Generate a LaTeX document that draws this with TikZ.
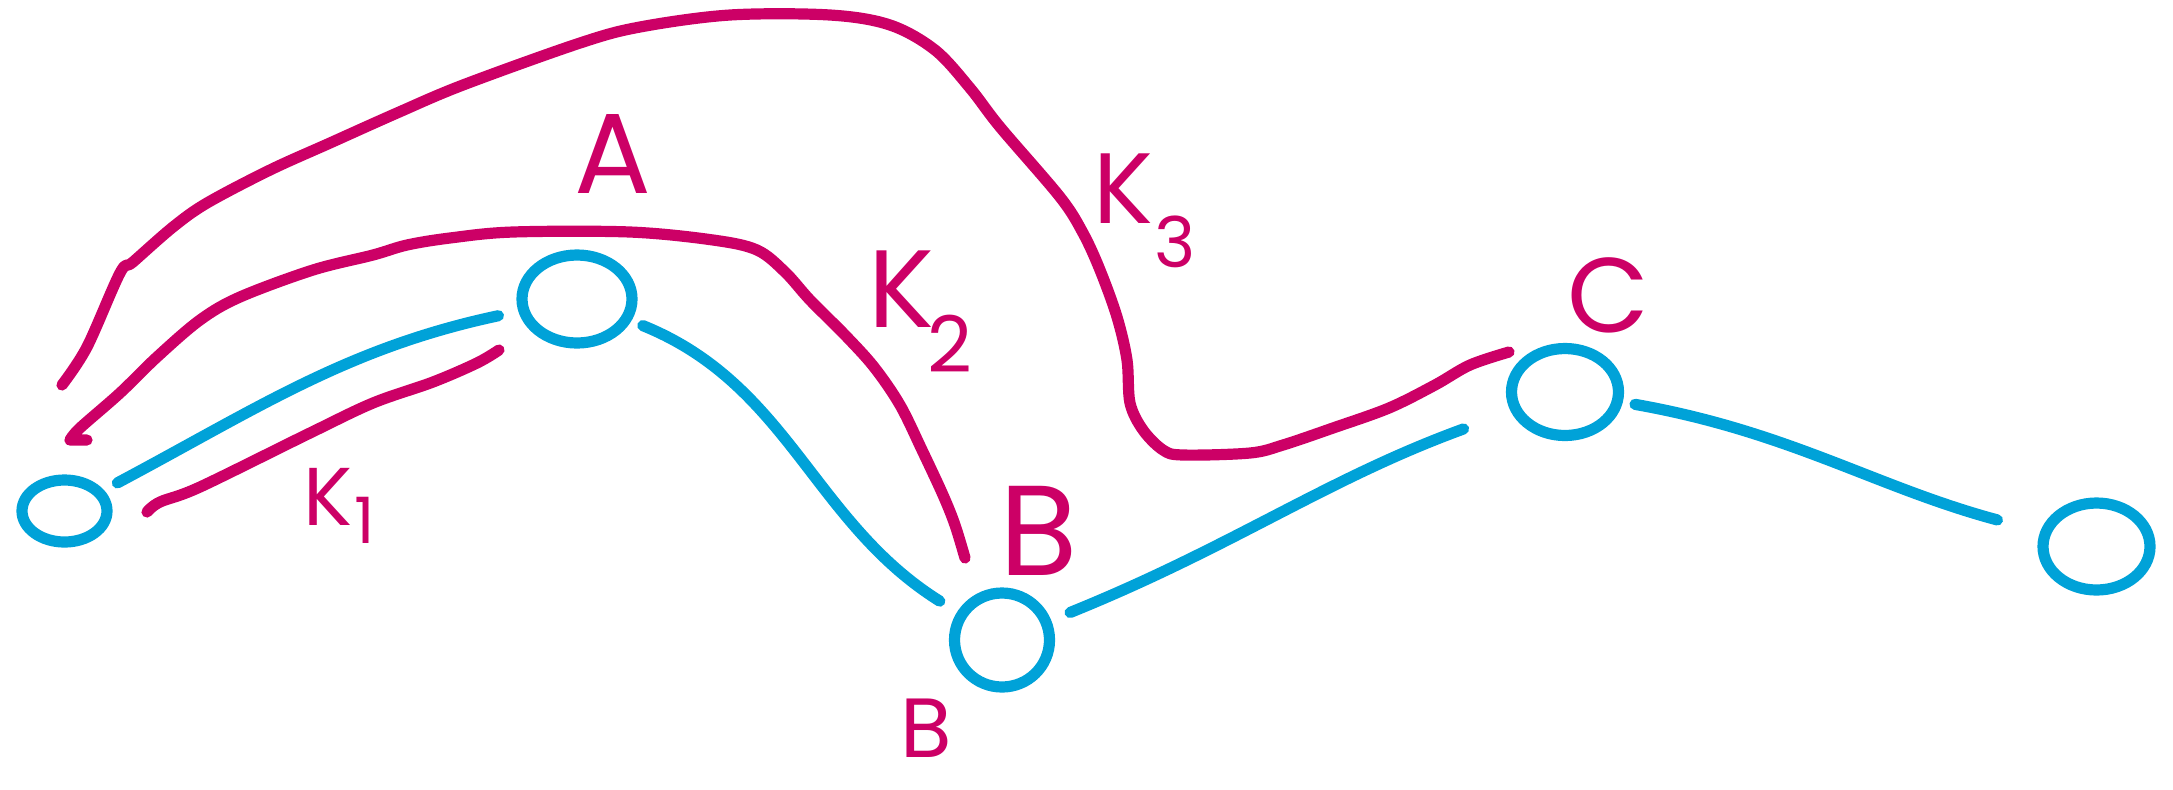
\documentclass[tikz,border=0pt]{standalone}
\usepackage{fontspec}
\newfontfamily\hand{Poppins}
\usetikzlibrary{shapes.geometric}
\definecolor{mag}{HTML}{CC0066}
\definecolor{sky}{HTML}{00A2D8}
\begin{document}
\begin{tikzpicture}[x=0.5pt,y=-0.5pt,
  magline/.style={draw=mag,line width=5.6pt,line cap=round,line join=round},
  blueline/.style={draw=sky,line width=5.6pt,line cap=round,line join=round},
  ring/.style={ellipse,draw=sky,line width=5.6pt,inner sep=0pt,outer sep=0pt},
  lab/.style={text=mag,inner sep=0pt,outer sep=0pt,font=\hand}]
\useasboundingbox (0,0) rectangle (2173,789);

% circles
\node[ring,minimum width=42.5pt,minimum height=31pt] (L) at (64.5,511) {};
\node[ring,minimum width=55pt,minimum height=44pt] (A) at (577,299) {};
\node[ring,minimum width=47.5pt,minimum height=47pt] (B) at (1002,640) {};
\node[ring,minimum width=53.5pt,minimum height=43.5pt] (C) at (1565,392) {};
\node[ring,minimum width=53.5pt,minimum height=43.5pt] (R) at (2096.5,546.5) {};

% blue connectors
\draw[blueline,shorten <=10.5pt,shorten >=13pt] (L) to[out=28,in=192] (A);
\draw[blueline,shorten <=9pt,shorten >=13pt] (A) to[out=-22,in=148] (B);
\draw[blueline,shorten <=13pt,shorten >=28pt] (B) to[out=22,in=200] (C);
\draw[blueline,shorten <=9pt,shorten >=25pt] (C) to[out=-10,in=165] (R);

% magenta paths
\coordinate (o1) at (62,385);
\coordinate (o2) at (1509,352);
\draw[magline] plot[smooth,tension=0.55] coordinates {(o1) (87,347) (120,273) (133,262) (173,227) (207,203) (270,170) (330,143) (397,113) (463,85) (580,43) (640,27) (730,15) (830,15) (890,25) (935,50) (970,88) (1000,127) (1060,197) (1083,233) (1100,270) (1117,317) (1127,360) (1130,403) (1143,430) (1163,450) (1183,455) (1250,453) (1283,445) (1333,428) (1389,408) (1435,385) (1470,365) (o2)};

\coordinate (i0) at (87,440);
\coordinate (i1) at (70,440);
\coordinate (i2) at (965,558);
\draw[magline] (i0) -- (i1) plot[smooth,tension=0.55] coordinates {(i1) (80,428) (120,393) (157,357) (200,320) (240,297) (313,270) (373,255) (407,245) (450,238) (513,232) (630,232) (713,240) (757,250) (785,272) (810,300) (845,335) (874,367) (900,405) (922,450) (943,495) (955,525) (i2)};

\coordinate (k1) at (147,512);
\coordinate (k2) at (499,350);
\draw[magline] plot[smooth,tension=0.55] coordinates {(k1) (160,502) (200,487) (310,433) (373,403) (433,382) (477,363) (k2)};

% labels
\node[lab,anchor=base] (tA) at (613,193) {\fontsize{57}{57}\selectfont A};
\node[lab,anchor=base west] (tK1) at (303,525) {\fontsize{41}{41}\selectfont K\kern1pt\raisebox{-9pt}{\fontsize{32}{32}\selectfont 1}};
\node[lab,anchor=base west] (tK2) at (868,327) {\fontsize{55}{55}\selectfont K\kern-3pt\raisebox{-22.5pt}{\fontsize{39}{39}\selectfont 2}};
\node[lab,anchor=base west] (tK3) at (1093,223) {\fontsize{50}{50}\selectfont K\kern1pt\raisebox{-22pt}{\fontsize{35}{35}\selectfont 3}};
\node[lab,anchor=base] (tB1) at (1039,575) {\fontsize{64}{64}\selectfont B};
\node[lab,anchor=base] (tB2) at (926,757) {\fontsize{42}{42}\selectfont B};
\node[lab,anchor=base] (tC) at (1608,332) {\fontsize{53}{53}\selectfont C};
\end{tikzpicture}
\end{document}
